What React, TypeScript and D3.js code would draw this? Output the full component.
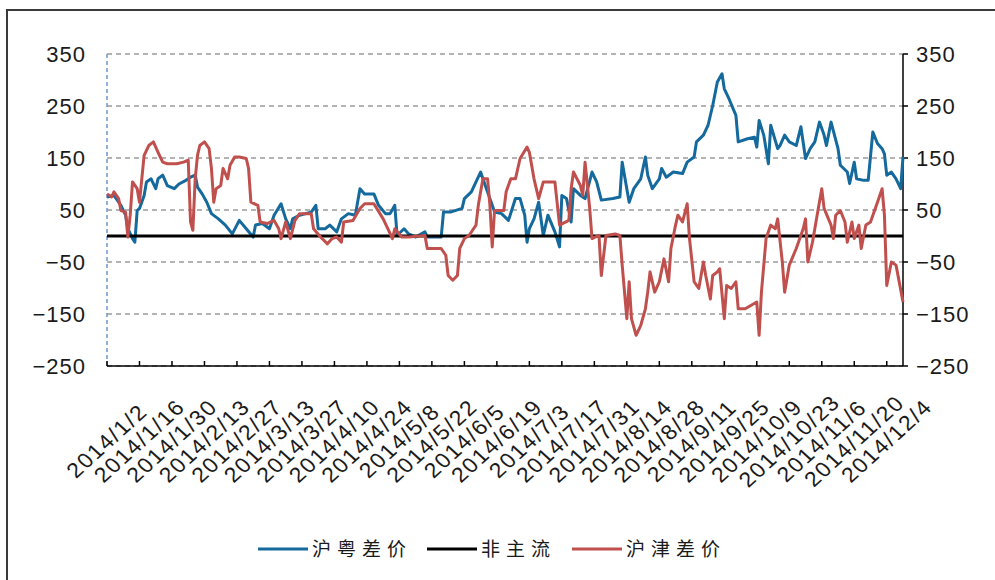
import React from 'react';
import * as d3 from 'd3';

// 沪粤差价 (blue), [month/day, value]
const blueSeries: [string, number][] = [
  ['1/2', 75], ['1/5', 78], ['1/8', 59], ['1/10', 40], ['1/11', 14], ['1/13', -5], ['1/14', -12],
  ['1/15', 49], ['1/16', 53], ['1/18', 78], ['1/19', 104], ['1/21', 110], ['1/23', 91], ['1/24', 110],
  ['1/26', 117], ['1/28', 97], ['1/31', 91], ['2/2', 100], ['2/5', 107], ['2/7', 113], ['2/9', 117],
  ['2/10', 94], ['2/12', 81], ['2/14', 65], ['2/16', 43], ['2/19', 33], ['2/22', 21], ['2/25', 4],
  ['2/28', 30], ['3/3', 14], ['3/6', -2], ['3/7', 21], ['3/10', 24], ['3/13', 14], ['3/15', 40],
  ['3/18', 62], ['3/20', 33], ['3/22', 14], ['3/23', 33], ['3/26', 40], ['3/31', 46], ['4/2', 59],
  ['4/3', 14], ['4/6', 14], ['4/8', 21], ['4/11', 8], ['4/13', 33], ['4/16', 43], ['4/19', 40],
  ['4/21', 91], ['4/23', 81], ['4/27', 81], ['4/29', 59], ['5/2', 43], ['5/4', 43], ['5/6', 59],
  ['5/7', 1], ['5/10', 14], ['5/12', 4], ['5/15', -2], ['5/19', 8], ['5/20', -2], ['5/26', -2],
  ['5/27', 46], ['5/30', 46], ['6/4', 53], ['6/5', 72], ['6/8', 85], ['6/10', 104], ['6/12', 123],
  ['6/14', 97], ['6/17', 59], ['6/18', 46], ['6/21', 43], ['6/24', 30], ['6/27', 72], ['6/29', 72],
  ['7/1', 40], ['7/2', -12], ['7/3', 14], ['7/5', 33], ['7/7', 65], ['7/9', 1], ['7/11', 40],
  ['7/14', 8], ['7/16', -21], ['7/17', 78], ['7/19', 72], ['7/21', 27], ['7/22', 91], ['7/25', 78],
  ['7/27', 72], ['7/30', 123], ['8/1', 104], ['8/3', 69], ['8/8', 72], ['8/11', 75], ['8/12', 142],
  ['8/15', 65], ['8/17', 91], ['8/20', 110], ['8/22', 152], ['8/23', 117], ['8/25', 91], ['8/28', 110],
  ['8/29', 130], ['8/31', 113], ['9/3', 123], ['9/7', 120], ['9/9', 142], ['9/12', 152], ['9/13', 181],
  ['9/16', 194], ['9/18', 213], ['9/20', 251], ['9/22', 296], ['9/24', 312], ['9/25', 283],
  ['9/27', 264], ['9/30', 232], ['10/1', 181], ['10/5', 187], ['10/8', 190], ['10/9', 171],
  ['10/10', 222], ['10/12', 194], ['10/14', 139], ['10/15', 213], ['10/18', 168], ['10/19', 174],
  ['10/21', 194], ['10/23', 181], ['10/26', 174], ['10/28', 210], ['10/30', 149], ['11/1', 168],
  ['11/3', 181], ['11/5', 219], ['11/7', 194], ['11/8', 174], ['11/10', 219], ['11/13', 168],
  ['11/14', 136], ['11/17', 123], ['11/18', 101], ['11/20', 142], ['11/21', 110], ['11/24', 107],
  ['11/26', 107], ['11/28', 200], ['11/30', 178], ['12/2', 168], ['12/3', 158], ['12/4', 117],
  ['12/6', 123], ['12/8', 110], ['12/10', 91], ['12/11', 152],
];

// 沪津差价 (red)
const redSeries: [string, number][] = [
  ['1/2', 81], ['1/4', 75], ['1/5', 85], ['1/7', 72], ['1/8', 49], ['1/10', 46], ['1/11', -2],
  ['1/12', 40], ['1/13', 104], ['1/15', 91], ['1/16', 65], ['1/18', 155], ['1/20', 174], ['1/22', 181],
  ['1/24', 161], ['1/26', 142], ['1/28', 139], ['2/1', 139], ['2/4', 142], ['2/6', 146], ['2/7', 27],
  ['2/8', 11], ['2/9', 110], ['2/10', 155], ['2/11', 174], ['2/13', 181], ['2/15', 168], ['2/16', 130],
  ['2/17', 65], ['2/18', 91], ['2/20', 97], ['2/21', 130], ['2/23', 110], ['2/24', 136], ['2/26', 152],
  ['2/28', 152], ['3/3', 149], ['3/4', 130], ['3/5', 65], ['3/8', 59], ['3/9', 27], ['3/12', 24],
  ['3/15', 30], ['3/17', 14], ['3/18', -5], ['3/20', 27], ['3/22', -5], ['3/24', 30], ['3/26', 43],
  ['3/31', 43], ['4/1', 14], ['4/4', -2], ['4/7', -15], ['4/9', -5], ['4/11', -2], ['4/13', -12],
  ['4/14', 27], ['4/18', 30], ['4/21', 53], ['4/23', 62], ['4/27', 62], ['5/1', 33], ['5/3', 14],
  ['5/5', -5], ['5/6', 14], ['5/9', -2], ['5/12', -2], ['5/19', 1], ['5/20', -24], ['5/26', -24],
  ['5/28', -37], ['5/29', -76], ['5/31', -85], ['6/2', -76], ['6/3', -24], ['6/5', -5], ['6/7', 1],
  ['6/10', 21], ['6/11', 59], ['6/12', 85], ['6/13', 110], ['6/15', 110], ['6/16', 59], ['6/17', -21],
  ['6/18', 49], ['6/22', 49], ['6/23', 85], ['6/25', 110], ['6/27', 110], ['6/29', 149], ['7/2', 171],
  ['7/3', 161], ['7/5', 110], ['7/7', 72], ['7/9', 104], ['7/14', 104], ['7/16', 21], ['7/20', 30],
  ['7/21', 91], ['7/22', 123], ['7/25', 97], ['7/26', 78], ['7/27', 142], ['7/29', 53], ['7/30', -5],
  ['8/2', 1], ['8/3', -76], ['8/5', 1], ['8/9', 4], ['8/11', 1], ['8/12', -56], ['8/14', -159],
  ['8/15', -88], ['8/16', -159], ['8/18', -191], ['8/20', -172], ['8/22', -140], ['8/23', -108],
  ['8/24', -69], ['8/26', -108], ['8/28', -88], ['8/30', -44], ['9/1', -88], ['9/2', -24], ['9/4', 21],
  ['9/5', 40], ['9/7', 27], ['9/9', 62], ['9/10', -5], ['9/12', -88], ['9/14', -101], ['9/16', -50],
  ['9/17', -76], ['9/19', -121], ['9/20', -76], ['9/22', -69], ['9/23', -63], ['9/25', -159],
  ['9/26', -95], ['9/28', -101], ['9/30', -88], ['10/1', -140], ['10/4', -140], ['10/9', -127],
  ['10/10', -191], ['10/11', -108], ['10/13', -5], ['10/15', 21], ['10/17', 14], ['10/18', 33],
  ['10/20', -50], ['10/21', -108], ['10/23', -56], ['10/26', -24], ['10/29', 14], ['10/30', 33],
  ['10/31', -50], ['11/2', -12], ['11/4', 40], ['11/6', 91], ['11/7', 53], ['11/10', 21], ['11/11', -5],
  ['11/12', 40], ['11/14', 49], ['11/16', 27], ['11/17', -12], ['11/19', 27], ['11/20', -5],
  ['11/22', 21], ['11/23', -24], ['11/25', 21], ['11/27', 27], ['11/30', 65], ['12/2', 91],
  ['12/3', 40], ['12/4', -95], ['12/6', -50], ['12/8', -56], ['12/11', -127],
];

// 非主流 (black, flat at zero)
const flatSeries: [string, number][] = [['1/2', 0], ['12/11', 0]];

const xTickLabels = [
  '2014/1/2', '2014/1/16', '2014/1/30', '2014/2/13', '2014/2/27', '2014/3/13', '2014/3/27',
  '2014/4/10', '2014/4/24', '2014/5/8', '2014/5/22', '2014/6/5', '2014/6/19', '2014/7/3',
  '2014/7/17', '2014/7/31', '2014/8/14', '2014/8/28', '2014/9/11', '2014/9/25', '2014/10/9',
  '2014/10/23', '2014/11/6', '2014/11/20', '2014/12/4',
];
const yTicks = [-250, -150, -50, 50, 150, 250, 350];

const BLUE = '#14699d';
const RED = '#c0504d';
const BLACK = '#000';

const legendItems = [
  { label: '沪粤差价', colour: BLUE, x: 258 },
  { label: '非主流', colour: BLACK, x: 427 },
  { label: '沪津差价', colour: RED, x: 572 },
];

const PLOT = { left: 107, right: 903, top: 54, bottom: 366 };
const FONT = 'Liberation Sans, Arial, sans-serif';

const parse = d3.timeParse('%Y/%m/%d');
const toDate = (s: string) => parse(s.startsWith('2014') ? s : `2014/${s}`) as Date;
const fmtY = (v: number) => (v < 0 ? `\u2212${Math.abs(v)}` : `${v}`);

export default function App() {
  const x = d3.scaleTime()
    .domain([toDate('1/2'), toDate('12/11')])
    .range([PLOT.left, PLOT.right]);
  const y = d3.scaleLinear().domain([-250, 350]).range([PLOT.bottom, PLOT.top]);

  const line = d3.line<[string, number]>()
    .x(d => x(toDate(d[0])))
    .y(d => y(d[1]));

  return (
    <svg width={995} height={580} style={{ position: 'absolute', left: 0, top: 0, background: '#fff' }}>
      {/* outer frame */}
      <path d="M7,580 V10 H995" fill="none" stroke="#3a3a3a" strokeWidth={2} />

      {/* gridlines */}
      {yTicks.map(t => (
        <line key={t} x1={PLOT.left} x2={PLOT.right} y1={y(t)} y2={y(t)}
          stroke="#9a9a9a" strokeWidth={1.5} strokeDasharray="5,4" />
      ))}

      {/* left axis, dashed */}
      <line x1={PLOT.left} x2={PLOT.left} y1={PLOT.top} y2={PLOT.bottom}
        stroke="#6a9bd0" strokeWidth={1.5} strokeDasharray="4,3" />
      {yTicks.map(t => (
        <text key={t} x={86} y={y(t)} dy="0.36em" textAnchor="end" fontFamily={FONT}
          fontSize={22} letterSpacing={1} fill="#1a1a1a">{fmtY(t)}</text>
      ))}

      {/* right axis */}
      <line x1={PLOT.right} x2={PLOT.right} y1={PLOT.top} y2={PLOT.bottom} stroke={BLACK} strokeWidth={1.5} />
      {yTicks.map(t => (
        <g key={t}>
          <line x1={PLOT.right} x2={PLOT.right + 5} y1={y(t)} y2={y(t)} stroke={BLACK} strokeWidth={1.5} />
          <text x={916} y={y(t)} dy="0.36em" fontFamily={FONT} fontSize={22} letterSpacing={1}
            fill="#1a1a1a">{fmtY(t)}</text>
        </g>
      ))}

      {/* bottom axis */}
      <line x1={PLOT.left} x2={PLOT.right} y1={PLOT.bottom} y2={PLOT.bottom} stroke={BLACK} strokeWidth={1.5} />
      {xTickLabels.map(lbl => {
        const tx = x(toDate(lbl));
        return (
          <g key={lbl}>
            <line x1={tx} x2={tx} y1={PLOT.bottom} y2={PLOT.bottom - 5} stroke={BLACK} strokeWidth={1.5} />
            <text transform={`translate(${tx},441) scale(1.1,1) rotate(-45)`} textAnchor="middle"
              dominantBaseline="central" fontFamily={FONT} fontSize={21} letterSpacing={1.5}
              fill="#1a1a1a">{lbl}</text>
          </g>
        );
      })}

      {/* series */}
      <path d={line(blueSeries) ?? ''} fill="none" stroke={BLUE} strokeWidth={3} strokeLinejoin="round" />
      <path d={line(flatSeries) ?? ''} fill="none" stroke={BLACK} strokeWidth={3} />
      <path d={line(redSeries) ?? ''} fill="none" stroke={RED} strokeWidth={3} strokeLinejoin="round" />

      {/* legend */}
      {legendItems.map(item => (
        <g key={item.label}>
          <line x1={item.x} x2={item.x + 50} y1={549} y2={549} stroke={item.colour} strokeWidth={3} />
          <text x={item.x + 54} y={549} dy="0.36em" fontFamily="Noto Sans CJK SC, sans-serif"
            fontSize={19} letterSpacing={6} fill="#1a1a1a">{item.label}</text>
        </g>
      ))}
    </svg>
  );
}
